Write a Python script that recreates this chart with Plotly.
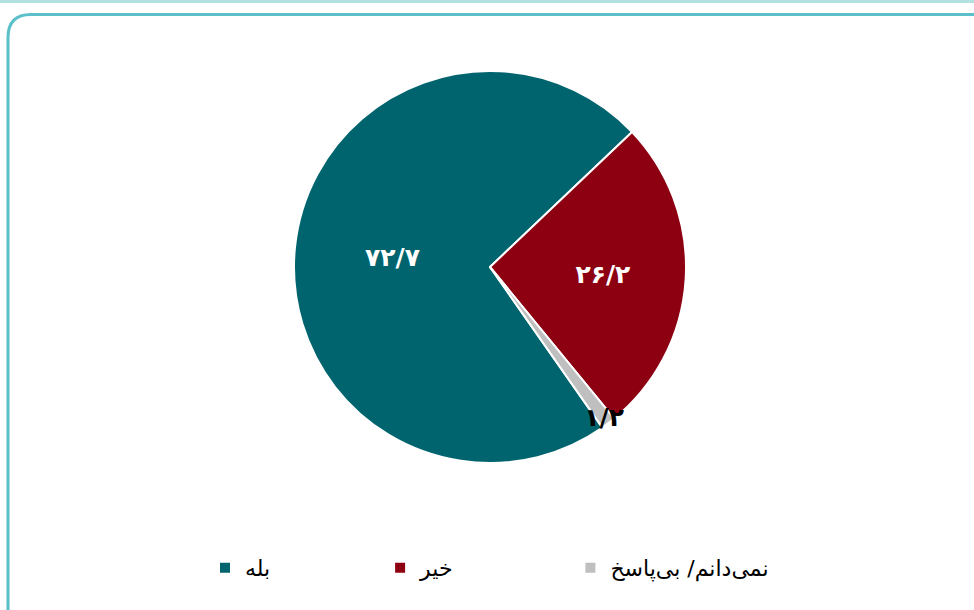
import plotly.graph_objects as go

# Data
categories = ["بله", "خیر", "نمی\u200cدانم/ بی\u200cپاسخ"]
values = [72.7, 26.2, 1.2]
colors = ["#00646E", "#8C0011", "#BFBFBF"]
text_colors = ["white", "white", "black"]
legend_pad = [15, 16, 0]  # trailing non-breaking spaces for legend spacing

def to_fa(v):
    s = f"{v:.1f}".replace(".", "/")
    return s.translate(str.maketrans("0123456789", "۰۱۲۳۴۵۶۷۸۹"))

labels_fa = [to_fa(v) for v in values]
legend_names = [c + "\u00a0" * n for c, n in zip(categories, legend_pad)]

W, H = 974, 610
def px(x):
    return x / W
def py(y):
    return 1 - y / H

cx, cy, r = 490, 267, 196

fig = go.Figure(go.Pie(
    labels=legend_names,
    values=values,
    text=labels_fa,
    textinfo="text",
    hovertext=categories,
    hoverinfo="text+value",
    sort=False,
    direction="clockwise",
    rotation=145,
    marker=dict(colors=colors, line=dict(color="white", width=2)),
    textposition="inside",
    insidetextorientation="horizontal",
    textfont=dict(family="DejaVu Sans", size=25, color=text_colors, weight="bold"),
    domain=dict(x=[px(cx - r), px(cx + r)], y=[py(cy + r), py(cy - r)]),
))

rad = 23
card = (f"M {px(8)},{py(700)} L {px(8)},{py(14.5 + rad)} "
        f"Q {px(8)},{py(14.5)} {px(8 + rad)},{py(14.5)} L {px(1000)},{py(14.5)}")

fig.update_layout(
    width=W, height=H,
    margin=dict(l=0, r=0, t=0, b=0),
    paper_bgcolor="white",
    plot_bgcolor="white",
    uniformtext=dict(minsize=22, mode="show"),
    showlegend=True,
    legend=dict(
        orientation="h",
        x=px(205), xanchor="left",
        y=py(568), yanchor="middle",
        font=dict(family="DejaVu Sans", size=22, color="black"),
        traceorder="normal",
    ),
    shapes=[
        dict(type="rect", xref="paper", yref="paper",
             x0=px(-5), x1=px(W + 5), y0=py(3), y1=py(-5),
             fillcolor="#B3E1DE", line=dict(width=0), layer="below"),
        dict(type="path", xref="paper", yref="paper", path=card,
             line=dict(color="#5BC0C9", width=3), layer="below"),
    ],
)

fig.write_html(
    "out.html",
    config={"displayModeBar": False},
    post_script="document.body.style.margin='0';document.body.style.overflow='hidden';",
)
